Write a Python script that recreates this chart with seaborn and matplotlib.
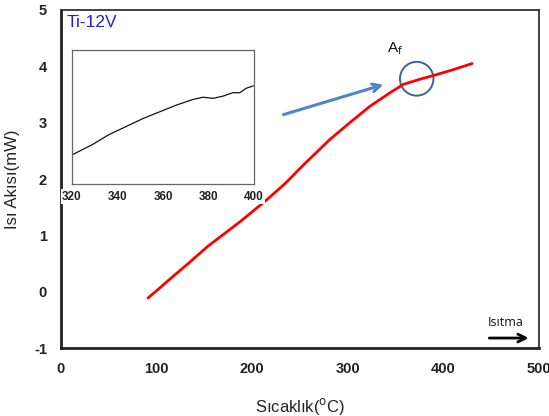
import matplotlib
matplotlib.use('Agg')
import matplotlib.pyplot as plt
import seaborn as sns
import pandas as pd
from matplotlib.patches import Ellipse

# main heating curve
temp = [91, 100, 117, 135, 153, 170, 187, 200, 215, 235, 253, 281, 302, 323,
        344, 358, 375, 392, 410, 430]
heat_flow = [-0.11, 0.02, 0.27, 0.53, 0.80, 1.02, 1.24, 1.42, 1.63, 1.93, 2.24,
             2.70, 3.00, 3.29, 3.53, 3.68, 3.77, 3.85, 3.94, 4.05]

# inset zoom 320-400 C
inset_temp = [320, 328.9, 336.3, 343.7, 351.0, 358.4, 365.8, 373.1, 377.6, 382.0,
              386.4, 390.6, 393.7, 396.6, 399.6]
inset_flow = [3.27, 3.36, 3.45, 3.52, 3.59, 3.65, 3.71, 3.76, 3.78, 3.77,
              3.79, 3.82, 3.82, 3.86, 3.88]

x_ticks = [0, 100, 200, 300, 400, 500]
y_ticks = [-1, 0, 1, 2, 3, 4, 5]
inset_ticks = [320, 340, 360, 380, 400]

df = pd.DataFrame({'T': temp, 'Q': heat_flow})
df_in = pd.DataFrame({'T': inset_temp, 'Q': inset_flow})

sns.set_style('white')
plt.rcParams['font.family'] = ['Liberation Sans', 'DejaVu Sans']
plt.rcParams['axes.unicode_minus'] = False

fig = plt.figure(figsize=(5.49, 4.16), dpi=100)
ax = fig.add_axes([0.111, 0.163, 0.871, 0.813])

sns.lineplot(data=df, x='T', y='Q', ax=ax, color='#ff0000', lw=2.0)
ax.set_xlim(0, 500)
ax.set_ylim(-1, 5)
ax.set_xticks(x_ticks)
ax.set_yticks(y_ticks)
ax.tick_params(axis='both', direction='out', length=4, width=1.2, colors='#222222',
               labelsize=10.5, pad=6)
for lab in ax.get_xticklabels() + ax.get_yticklabels():
    lab.set_fontweight('bold')
    lab.set_color('#222222')
for side in ['left', 'bottom']:
    ax.spines[side].set_linewidth(2.0)
    ax.spines[side].set_color('#222222')
for side in ['top', 'right']:
    ax.spines[side].set_linewidth(1.3)
    ax.spines[side].set_color('#333333')
ax.set_xlabel('Sıcaklık($^{\\rm o}$C)', fontsize=12, labelpad=14, color='#222222')
ax.set_ylabel('Isı Akısı(mW)', fontsize=12, labelpad=10, color='#222222')

ax.text(0.012, 0.985, 'Ti-12V', transform=ax.transAxes, fontsize=12.5,
        color='#2020e0', va='top', ha='left')
ax.text(341, 4.25, 'A$_{\\rm f}$', fontsize=11, color='#111111')
ax.annotate('', xy=(340, 3.69), xytext=(230, 3.13),
            arrowprops=dict(arrowstyle='->', color='#4f86c6', lw=2.2,
                            mutation_scale=14))
ax.add_patch(Ellipse((372, 3.78), 35, 0.6, fill=False, ec='#3e6496', lw=1.4))
ax.text(446, -0.55, 'Isıtma', fontsize=9, color='#111111', ha='left', va='center',
        family=['Open Sans', 'DejaVu Sans'])
ax.annotate('', xy=(492, -0.82), xytext=(445, -0.82),
            arrowprops=dict(arrowstyle='->', color='black', lw=2.0,
                            mutation_scale=14))

# inset
axi = fig.add_axes([0.131, 0.558, 0.332, 0.322])
sns.lineplot(data=df_in, x='T', y='Q', ax=axi, color='#111111', lw=0.9)
axi.set_xlim(320, 400)
axi.set_ylim(3.014, 4.198)
axi.set_xticks(inset_ticks)
axi.set_yticks([3.2, 3.6, 4.0])
axi.set_yticklabels([])
axi.set_xlabel('')
axi.set_ylabel('')
axi.tick_params(axis='both', direction='out', length=3, width=0.8, colors='#555555',
                labelsize=8.5, pad=2)
for lab in axi.get_xticklabels():
    lab.set_fontweight('bold')
    lab.set_color('#222222')
    lab.set_bbox(dict(facecolor='white', edgecolor='none', pad=1))
for side in axi.spines:
    axi.spines[side].set_linewidth(0.9)
    axi.spines[side].set_color('#666666')

fig.savefig('out.png', dpi=100)
